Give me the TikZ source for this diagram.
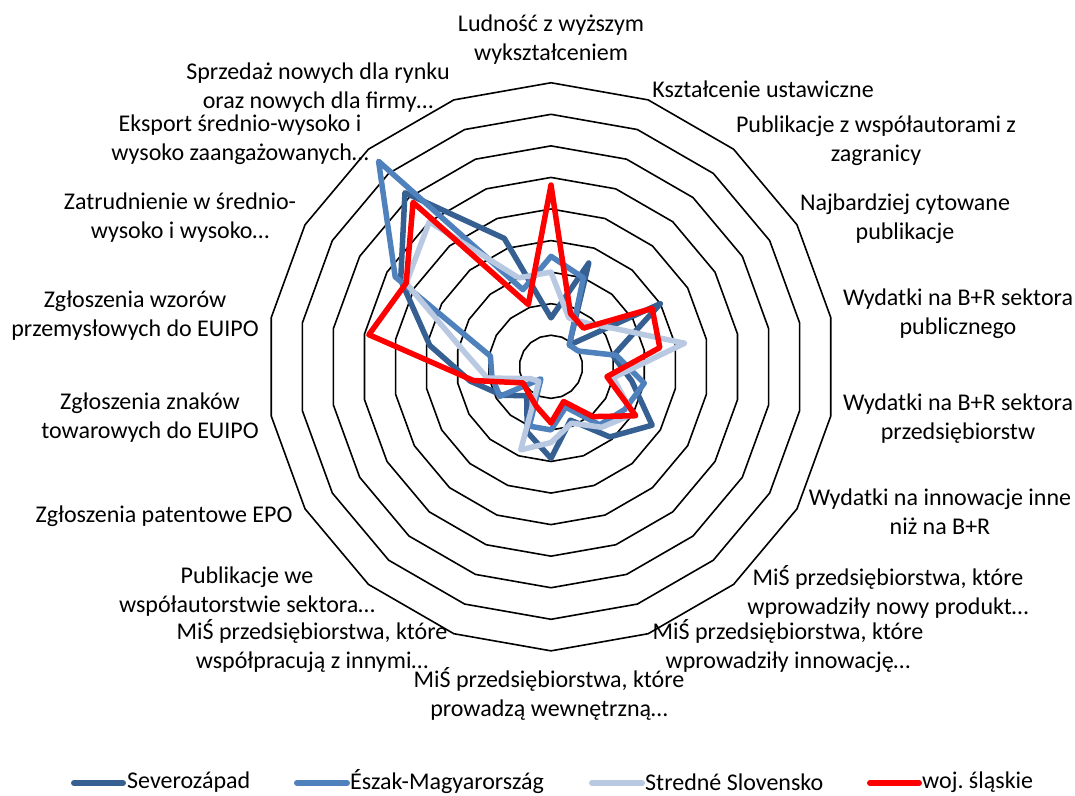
\documentclass[tikz,border=0pt]{standalone}
\usepackage{fontspec}
\setmainfont{Carlito}
\definecolor{sevc}{RGB}{55,96,146}
\definecolor{eszc}{RGB}{79,129,189}
\definecolor{strc}{RGB}{185,201,226}
\definecolor{slac}{RGB}{255,0,0}
\tikzset{
  ring/.style={draw=black, line width=1.6pt, line join=miter},
  series/.style={line width=5.5pt, line join=round, line cap=round},
  lab/.style={align=center, inner sep=0pt, font=\fontsize{24}{29}\selectfont},
  legline/.style={line width=6pt, line cap=round},
  legtext/.style={anchor=west, inner sep=0pt, font=\fontsize{24}{29}\selectfont}
}
\newcommand{\unitr}{31.56}
\frenchspacing
\begin{document}
\begin{tikzpicture}[x=1pt,y=-1pt]
\useasboundingbox[fill=white] (0,0) rectangle (1075,795);
\begin{scope}[shift={(551,366.8)}]
  % grid rings
  \foreach \i in {1,...,9}{
    \draw[ring] (-90:{\i*\unitr}) \foreach \k in {1,...,17}{ -- ({20*\k-90}:{\i*\unitr}) } -- cycle;
  }
  % Severozapad
  \draw[series, draw=sevc] (-90:{1.55*\unitr})
    \foreach \v [count=\k] in {3.5,0.9,4.0,2.0,2.6,3.7,2.9,1.8,2.9,2.2,1.2,1.8,2.6,3.9,5.5,7.2,4.33}{ -- ({20*\k-90}:{\v*\unitr}) } -- cycle;
  % Eszak-Magyarorszag
  \draw[series, draw=eszc] (-90:{3.5*\unitr})
    \foreach \v [count=\k] in {3.0,0.9,1.0,2.1,3.0,2.7,2.4,1.36,2.0,2.0,0.5,1.87,1.9,1.95,5.7,8.5,2.6}{ -- ({20*\k-90}:{\v*\unitr}) } -- cycle;
  % Stredne Slovensko
  \draw[series, draw=strc] (-90:{3.0*\unitr})
    \foreach \v [count=\k] in {1.65,1.8,2.4,4.3,2.0,3.0,2.5,1.9,2.4,2.8,0.6,0.75,2.05,2.8,5.3,6.0,3.0}{ -- ({20*\k-90}:{\v*\unitr}) } -- cycle;
  % woj. slaskie
  \draw[series, draw=slac] (-90:{5.76*\unitr})
    \foreach \v [count=\k] in {1.8,1.6,3.7,3.5,1.8,3.1,2.06,1.17,1.78,1.34,1.1,1.02,2.5,5.86,5.3,6.8,2.1}{ -- ({20*\k-90}:{\v*\unitr}) } -- cycle;
\end{scope}
% axis labels
\node[lab] (l0) at (551,40) {Ludność z wyższym\\wykształceniem};
\node[lab] (l1) at (763,89) {Kształcenie ustawiczne};
\node[lab] (l2) at (876,141) {Publikacje z współautorami z\\zagranicy};
\node[lab] (l3) at (905,219) {Najbardziej cytowane\\publikacje};
\node[lab] (l4) at (958,314) {Wydatki na B+R sektora\\publicznego};
\node[lab] (l5) at (958,419) {Wydatki na B+R sektora\\przedsiębiorstw};
\node[lab] (l6) at (940,512) {Wydatki na innowacje inne\\niż na B+R};
\node[lab] (l7) at (888,592) {MiŚ przedsiębiorstwa, które\\wprowadziły nowy produkt…};
\node[lab] (l8) at (788,646) {MiŚ przedsiębiorstwa, które\\wprowadziły innowację…};
\node[lab] (l9) at (549,694) {MiŚ przedsiębiorstwa, które\\prowadzą wewnętrzną…};
\node[lab] (l10) at (312,646) {MiŚ przedsiębiorstwa, które\\współpracują z innymi…};
\node[lab] (l11) at (247,592) {Publikacje we\\współautorstwie sektora…};
\node[lab] (l12) at (164,516) {Zgłoszenia patentowe EPO};
\node[lab] (l13) at (150,418) {Zgłoszenia znaków\\towarowych do EUIPO};
\node[lab] (l14) at (135,316) {Zgłoszenia wzorów\\przemysłowych do EUIPO};
\node[lab] (l15) at (180,218) {Zatrudnienie w średnio-\\wysoko i wysoko…};
\node[lab] (l16) at (240,140) {Eksport średnio-wysoko i\\wysoko zaangażowanych…};
\node[lab] (l17) at (318,88) {Sprzedaż nowych dla rynku\\oraz nowych dla firmy…};
% legend
\coordinate (g1a) at (74,783); \coordinate (g1b) at (123,783);
\coordinate (g2a) at (297,783); \coordinate (g2b) at (347,783);
\coordinate (g3a) at (592,783); \coordinate (g3b) at (642,783);
\coordinate (g4a) at (870,783); \coordinate (g4b) at (919,783);
\draw[legline, sevc] (g1a) -- (g1b);
\draw[legline, eszc] (g2a) -- (g2b);
\draw[legline, strc] (g3a) -- (g3b);
\draw[legline, slac] (g4a) -- (g4b);
\node[legtext] (t1) at (127,782) {Severozápad};
\node[legtext] (t2) at (350,782) {Észak-Magyarország};
\node[legtext] (t3) at (645,782) {Stredné Slovensko};
\node[legtext] (t4) at (922,782) {woj. śląskie};
\end{tikzpicture}
\end{document}
